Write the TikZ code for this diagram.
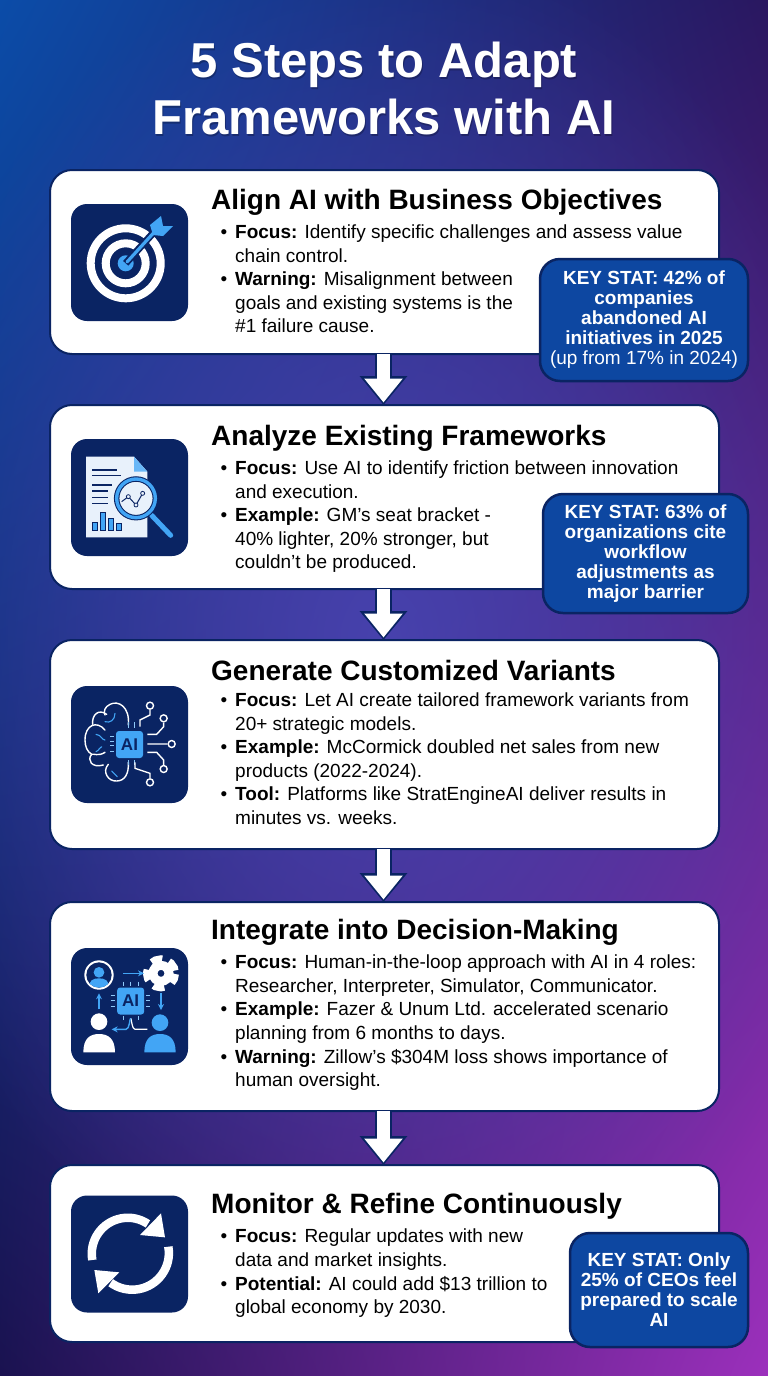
\documentclass[tikz,border=0pt]{standalone}
\usepackage{fontspec}
\setmainfont{Liberation Sans}
\usetikzlibrary{arrows.meta,fadings,shadings}

\definecolor{navy}{HTML}{0A2463}
\definecolor{statblue}{HTML}{0D47A1}
\definecolor{skyblue}{HTML}{42A5F5}
\definecolor{paleblue}{HTML}{E8F1FB}
\definecolor{bgtl}{HTML}{0B4CA8}
\definecolor{bgtr}{HTML}{2A1760}
\definecolor{bgbl}{HTML}{1A1250}
\definecolor{bgbr}{HTML}{9C30BC}
\definecolor{bgmid}{HTML}{4A46B4}

\tikzfading[name=midglow, inner color=transparent!15, outer color=transparent!100]

\tikzset{
    card/.style={draw=navy, line width=2pt, fill=white, rounded corners=22pt, minimum width=669pt, inner sep=0pt, outer sep=0pt},
    iconbox/.style={fill=navy, rounded corners=16pt, minimum width=117pt, minimum height=117pt, inner sep=0pt, outer sep=0pt},
    statbox/.style={draw=navy, line width=2.5pt, fill=statblue, rounded corners=20pt, inner sep=0pt, outer sep=0pt, text=white, align=center, font=\fontsize{19}{20}\selectfont\bfseries},
    headline/.style={anchor=west, inner sep=0pt, font=\fontsize{28}{32}\selectfont\bfseries},
    bodytext/.style={anchor=north west, inner sep=0pt, align=left, font=\fontsize{19}{23.5}\selectfont},
    titletext/.style={align=center, inner sep=0pt, text=white, font=\fontsize{49}{57}\selectfont\bfseries},
    flowarrow/.style={white, line width=13pt, shorten >=2.5pt, -{Triangle[width=37pt,length=24pt]},
        preaction={draw=navy, line width=16.5pt, shorten >=0pt, -{Triangle[width=46pt,length=29pt]}}},
    circuit/.style={draw=white, line width=1.4pt},
    pad/.style={draw=white, line width=1.4pt, circle, minimum size=7pt, inner sep=0pt},
    chip/.style={fill=skyblue, rounded corners=3pt, minimum width=27pt, minimum height=27pt, inner sep=0pt, text=navy, font=\fontsize{17}{17}\selectfont\bfseries},
}
\newcommand{\bul}{\llap{\textbullet\hspace{8pt}}}

\begin{document}
\begin{tikzpicture}[x=1pt, y=-1pt]
    \useasboundingbox (0, 0) rectangle (768, 1376);
    \shade[upper left=bgtl, upper right=bgtr, lower left=bgbl, lower right=bgbr]
        (0, 0) rectangle (768, 1376);
    \fill[bgmid, path fading=midglow] (384, 640) ellipse (520 and 700);

    \node[titletext, text=black, opacity=0.25] (titleshadow) at (385, 90) {5 Steps to Adapt\\Frameworks with AI};
    \node[titletext] (title) at (384, 88) {5 Steps to Adapt\\Frameworks with AI};

    \node[card, minimum height=184pt] (card1) at (384.5, 262) {};
    \node[card, minimum height=184pt] (card2) at (384.5, 497) {};
    \node[card, minimum height=209pt] (card3) at (384.5, 744.5) {};
    \node[card, minimum height=209pt] (card4) at (384.5, 1006.5) {};
    \node[card, minimum height=177pt] (card5) at (384.5, 1253.5) {};

    \draw[flowarrow] ([xshift=-1pt]card1.south) -- ([xshift=-1pt]card2.north);
    \draw[flowarrow] ([xshift=-1pt]card2.south) -- ([xshift=-1pt]card3.north);
    \draw[flowarrow] ([xshift=-1pt]card3.south) -- ([xshift=-1pt]card4.north);
    \draw[flowarrow] ([xshift=-1pt]card4.south) -- ([xshift=-1pt]card5.north);

    \node[iconbox] (icon1) at (129.5, 262.5) {};
    \node[iconbox] (icon2) at (129.5, 497.5) {};
    \node[iconbox] (icon3) at (129.5, 744.5) {};
    \node[iconbox] (icon4) at (129.5, 1006.5) {};
    \node[iconbox] (icon5) at (129.5, 1254) {};

    \node[headline] (head1) at (211, 202) {Align AI with Business Objectives};
    \node[bodytext] (focus1) at (235, 225) {\bul\textbf{Focus:} Identify specific challenges and assess value\\chain control.};
    \node[bodytext] (warn1) at (235, 272) {\bul\textbf{Warning:} Misalignment between\\goals and existing systems is the\\\#1 failure cause.};
    \node[statbox, minimum width=208pt, minimum height=122pt] (stat1) at (644, 320) {KEY STAT: 42\% of\\companies\\abandoned AI\\initiatives in 2025\\\mdseries(up from 17\% in 2024)};

    \node[headline] (head2) at (211, 438) {Analyze Existing Frameworks};
    \node[bodytext] (focus2) at (235, 461) {\bul\textbf{Focus:} Use AI to identify friction between innovation\\and execution.};
    \node[bodytext] (example2) at (235, 508) {\bul\textbf{Example:} GM's seat bracket -\\40\% lighter, 20\% stronger, but\\couldn't be produced.};
    \node[statbox, minimum width=205pt, minimum height=119pt] (stat2) at (645.5, 553.5) {KEY STAT: 63\% of\\organizations cite\\workflow\\adjustments as\\major barrier};

    \node[headline] (head3) at (211, 670) {Generate Customized Variants};
    \node[bodytext] (focus3) at (235, 693) {\bul\textbf{Focus:} Let AI create tailored framework variants from\\20+ strategic models.};
    \node[bodytext] (example3) at (235, 740) {\bul\textbf{Example:} McCormick doubled net sales from new\\products (2022-2024).};
    \node[bodytext] (tool3) at (235, 787) {\bul\textbf{Tool:} Platforms like StratEngineAI deliver results in\\minutes vs. weeks.};

    \node[headline] (head4) at (211, 932) {Integrate into Decision-Making};
    \node[bodytext] (focus4) at (235, 955) {\bul\textbf{Focus:} Human-in-the-loop approach with AI in 4 roles:\\Researcher, Interpreter, Simulator, Communicator.};
    \node[bodytext] (example4) at (235, 1002) {\bul\textbf{Example:} Fazer \& Unum Ltd. accelerated scenario\\planning from 6 months to days.};
    \node[bodytext] (warn4) at (235, 1049) {\bul\textbf{Warning:} Zillow's \$304M loss shows importance of\\human oversight.};

    \node[headline] (head5) at (211, 1206) {Monitor \& Refine Continuously};
    \node[bodytext] (focus5) at (235, 1229) {\bul\textbf{Focus:} Regular updates with new\\data and market insights.};
    \node[bodytext] (potential5) at (235, 1276) {\bul\textbf{Potential:} AI could add \$13 trillion to\\global economy by 2030.};
    \node[statbox, minimum width=178pt, minimum height=114pt] (stat5) at (659, 1290) {KEY STAT: Only\\25\% of CEOs feel\\prepared to scale\\AI};

    % target
    \draw[white, line width=8pt] (125.7, 263.3) circle (35);
    \draw[white, line width=8pt] (125.7, 263.3) circle (20);
    \fill[skyblue] (125.7, 263.3) circle (8);
    \draw[navy, line width=7pt] (125.7, 263.3) -- (155, 231);
    \draw[skyblue, line width=3.2pt, line cap=round] (127, 262) -- (158, 228);
    \fill[skyblue] (150, 225) -- (161, 216) -- (163, 226) -- (173, 226) -- (163, 236) -- (153, 235) -- cycle;

    % report
    \begin{scope}[shift={(60, 430)}, scale=1/3]
        \fill[paleblue] (78, 80) -- (222, 80) -- (262, 125) -- (262, 322) -- (78, 322) -- cycle;
        \fill[skyblue!80!white] (222, 80) -- (262, 125) -- (222, 125) -- cycle;
        \draw[navy, line width=1.1pt] (97, 120) -- (172, 120) (97, 137) -- (183, 137) (97, 165) -- (157, 165) (97, 183) -- (145, 183) (97, 202) -- (145, 202) (97, 220) -- (145, 220);
        \filldraw[fill=skyblue, draw=navy, line width=0.7pt] (97, 278) rectangle (112, 300) (120, 248) rectangle (137, 300) (145, 265) rectangle (160, 300) (170, 280) rectangle (185, 300);
        \draw[navy, line width=7pt] (272, 252) -- (334, 318);
        \draw[skyblue, line width=5pt, line cap=round] (275, 256) -- (332, 316);
        \filldraw[fill=paleblue, draw=navy, line width=5.5pt] (228, 205) circle (58);
        \draw[skyblue, line width=3.4pt] (228, 205) circle (58);
        \draw[navy, line width=1pt] (185, 215) -- (205, 200) -- (228, 225) -- (248, 190);
        \filldraw[fill=paleblue, draw=navy, line width=0.8pt] (205, 200) circle (6) (228, 225) circle (6) (248, 190) circle (6);
    \end{scope}

    % ai brain
    \begin{scope}[shift={(60, 675)}, scale=1/3]
        \draw[circuit, line cap=round] (205, 150) .. controls (210, 95) and (175, 75) .. (150, 88) .. controls (135, 95) and (130, 108) .. (135, 120);
        \draw[circuit, line cap=round] (140, 118) .. controls (115, 100) and (95, 120) .. (98, 148);
        \draw[circuit, line cap=round] (135, 165) .. controls (110, 135) and (75, 150) .. (75, 195) .. controls (75, 215) and (82, 230) .. (95, 238);
        \draw[circuit, line cap=round] (135, 232) .. controls (115, 245) and (100, 235) .. (95, 238) .. controls (80, 255) and (95, 280) .. (130, 270);
        \draw[circuit, line cap=round] (145, 268) .. controls (125, 290) and (145, 320) .. (170, 318) .. controls (195, 318) and (207, 295) .. (205, 262);
        \draw[skyblue, line width=1.1pt, line cap=round] (135, 140) .. controls (150, 145) and (165, 135) .. (165, 115) (108, 178) .. controls (125, 180) and (125, 195) .. (135, 195) (108, 230) .. controls (120, 225) and (118, 215) .. (125, 215) (155, 288) -- (172, 305);
        \draw[skyblue!60!white, line width=1pt] (205, 142) -- (205, 158) (222, 142) -- (222, 158) (150, 185) -- (162, 185) (150, 198) -- (162, 198) (150, 212) -- (162, 212) (150, 228) -- (162, 228) (205, 255) -- (205, 270) (222, 255) -- (222, 270);
        \node[chip] (chipa) at (208.5, 208.5) {AI};
        \node[pad] (pada) at (270, 92) {};
        \node[pad] (padb) at (311, 130) {};
        \node[pad] (padc) at (335, 207) {};
        \node[pad] (padd) at (311, 282) {};
        \node[pad] (pade) at (270, 322) {};
        \draw[circuit] (240, 155) -- (240, 135) -- (270, 120) -- (pada);
        \draw[circuit] (262, 178) -- (290, 178) -- (311, 155) -- (padb);
        \draw[circuit] (262, 207) -- (padc);
        \draw[circuit] (262, 232) -- (290, 232) -- (311, 255) -- (padd);
        \draw[circuit] (225, 262) -- (225, 280) -- (270, 295) -- (pade);
    \end{scope}

    % ai roles
    \begin{scope}[shift={(60, 940)}, scale=1/3]
        \fill[white] (117, 105) circle (44);
        \fill[navy] (117, 105) circle (38);
        \begin{scope}
            \clip (117, 105) circle (38);
            \fill[skyblue] (117, 97) circle (16);
            \fill[skyblue] (85, 150) .. controls (85, 120) and (100, 115) .. (117, 115) .. controls (134, 115) and (149, 120) .. (149, 150) -- cycle;
        \end{scope}
        \draw[white, line width=14pt, dash pattern=on 8.5pt off 6pt] (303, 100) circle (33);
        \draw[white, line width=9pt] (303, 100) circle (24);
        \draw[skyblue, line width=1.4pt, -{Stealth[length=6pt,width=6pt]}] (190, 100) -- (252, 100);
        \draw[skyblue, line width=1.4pt, -{Stealth[length=6pt,width=6pt]}] (303, 160) -- (303, 210);
        \draw[skyblue, line width=1.4pt, -{Stealth[length=6pt,width=6pt]}] (117, 208) -- (117, 160);
        \draw[skyblue!60!white, line width=1pt] (190, 125) -- (190, 138) (212, 125) -- (212, 138) (234, 125) -- (234, 138) (152, 165) -- (165, 165) (152, 182) -- (165, 182) (152, 198) -- (165, 198) (258, 165) -- (271, 165) (258, 182) -- (271, 182) (258, 198) -- (271, 198) (190, 228) -- (190, 240) (234, 228) -- (234, 240);
        \node[chip] (chipb) at (212, 183) {AI};
        \fill[white] (117, 245) circle (25);
        \fill[white] (70, 337) .. controls (70, 295) and (90, 282) .. (117, 282) .. controls (144, 282) and (165, 295) .. (165, 337) -- cycle;
        \fill[skyblue] (300, 248) circle (25);
        \fill[skyblue] (253, 337) .. controls (253, 295) and (273, 282) .. (300, 282) .. controls (327, 282) and (347, 295) .. (347, 337) -- cycle;
        \draw[white, line width=1.2pt] (262, 268) -- (225, 268) .. controls (215, 268) and (215, 235) .. (212, 235);
        \draw[skyblue, line width=1.4pt, -{Stealth[length=6pt,width=6pt]}] (212, 235) .. controls (209, 235) and (209, 268) .. (198, 268) -- (155, 268);
    \end{scope}

    % refresh
    \begin{scope}[shift={(60, 1185)}, scale=1/3]
        \draw[white, line width=8.5pt] (97, 225) arc[start angle=170, end angle=304, radius=108];
        \fill[white] (303, 85) -- (315, 157) -- (240, 150) -- cycle;
        \draw[white, line width=8.5pt] (325, 185) arc[start angle=-10, end angle=126, radius=110];
        \fill[white] (103, 255) -- (178, 262) -- (115, 325) -- cycle;
    \end{scope}
\end{tikzpicture}
\end{document}
